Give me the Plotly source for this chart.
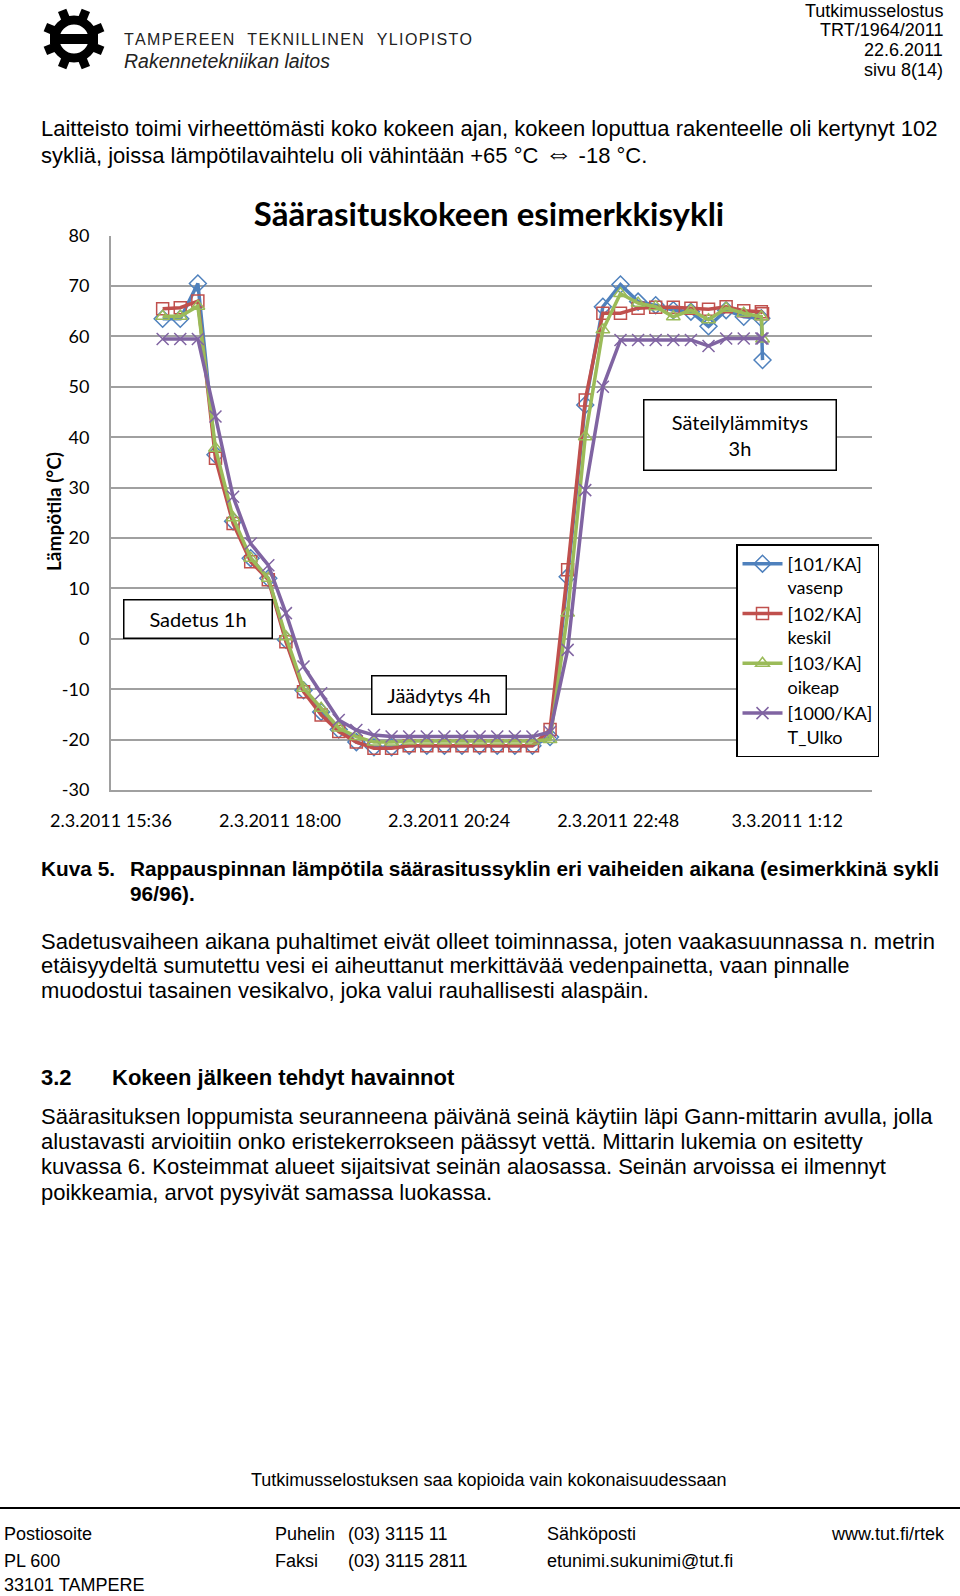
import math
import plotly.graph_objects as go

W, H = 960, 1596
def px(x): return x / W
def py(y): return 1 - y / H

# ---------------- data ----------------
times = ["2011-03-02 16:20", "2011-03-02 16:35", "2011-03-02 16:50", "2011-03-02 17:05",
         "2011-03-02 17:20", "2011-03-02 17:35", "2011-03-02 17:50", "2011-03-02 18:05",
         "2011-03-02 18:20", "2011-03-02 18:35", "2011-03-02 18:50", "2011-03-02 19:05",
         "2011-03-02 19:20", "2011-03-02 19:35", "2011-03-02 19:50", "2011-03-02 20:05",
         "2011-03-02 20:20", "2011-03-02 20:35", "2011-03-02 20:50", "2011-03-02 21:05",
         "2011-03-02 21:20", "2011-03-02 21:35", "2011-03-02 21:50", "2011-03-02 22:05",
         "2011-03-02 22:20", "2011-03-02 22:35", "2011-03-02 22:50", "2011-03-02 23:05",
         "2011-03-02 23:20", "2011-03-02 23:35", "2011-03-02 23:50", "2011-03-03 00:05",
         "2011-03-03 00:20", "2011-03-03 00:35", "2011-03-03 00:50", "2011-03-03 00:51"]

t101_vasenp = [63.5, 63.5, 70.5, 36.5, 23.3, 16.0, 12.0, -0.2, -10.2, -14.5, -18.0, -20.5,
               -21.5, -21.5, -21.2, -21.2, -21.2, -21.2, -21.2, -21.2, -21.2, -21.2, -19.5,
               12.3, 46.4, 65.9, 70.3, 66.9, 66.2, 65.2, 64.9, 62.0, 65.2, 63.9, 63.6, 55.3]
t102_keskil = [65.5, 65.7, 67.0, 35.8, 22.9, 15.3, 11.7, -0.6, -10.5, -15.1, -18.4, -20.5,
               -21.7, -21.7, -21.2, -21.2, -21.2, -21.2, -21.2, -21.2, -21.2, -21.2, -18.0,
               13.7, 47.4, 64.6, 64.6, 65.6, 65.8, 65.8, 65.6, 65.4, 65.9, 65.1, 64.9, 64.5]
t103_oikeap = [64.0, 64.0, 66.0, 37.8, 24.0, 16.0, 12.0, 0.4, -9.8, -13.8, -17.7, -19.4,
               -20.5, -20.5, -20.3, -20.3, -20.3, -20.3, -20.3, -20.3, -20.3, -20.3, -20.0,
               5.1, 40.1, 61.3, 68.5, 66.6, 65.9, 63.9, 65.2, 63.3, 65.6, 64.6, 63.9, 59.5]
t1000_ulko = [59.5, 59.5, 59.5, 44.1, 28.2, 18.9, 14.6, 5.1, -5.5, -10.8, -16.1, -18.1,
              -19.1, -19.4, -19.4, -19.4, -19.4, -19.4, -19.4, -19.4, -19.4, -19.4, -18.5,
              -2.2, 29.5, 50.0, 59.3, 59.3, 59.3, 59.3, 59.3, 58.1, 59.6, 59.6, 59.6, 59.6]

series_names = ["[101/KA]<br>vasenp", "[102/KA]<br>keskil", "[103/KA]<br>oikeap", "[1000/KA]<br>T_Ulko"]
series_values = [t101_vasenp, t102_keskil, t103_oikeap, t1000_ulko]

y_tick_vals = [-30, -20, -10, 0, 10, 20, 30, 40, 50, 60, 70, 80]
y_tick_text = ["-30", "-20", "-10", "0", "10", "20", "30", "40", "50", "60", "70", "80"]
x_tick_vals = ["2011-03-02 15:36", "2011-03-02 18:00", "2011-03-02 20:24",
               "2011-03-02 22:48", "2011-03-03 01:12"]
x_tick_text = ["2.3.2011 15:36", "2.3.2011 18:00", "2.3.2011 20:24",
               "2.3.2011 22:48", "3.3.2011 1:12"]
x_range = ["2011-03-02 15:36", "2011-03-03 02:24"]

# ---------------- styles ----------------
colors = ["#4F81BD", "#C0504D", "#9BBB59", "#8064A2"]
symbols = ["diamond-open", "square-open", "triangle-up-open", "x-thin-open"]
msizes = [13, 12, 12, 12]
CAL = "Lato, Carlito, Calibri, sans-serif"
ARI = "Liberation Sans, Arial, sans-serif"

fig = go.Figure()
for name, vals, c, s, ms in zip(series_names, series_values, colors, symbols, msizes):
    fig.add_trace(go.Scatter(
        x=times, y=vals, name=name, mode="lines+markers",
        line=dict(color=c, width=3.5),
        marker=dict(symbol=s, size=ms, color=c, line=dict(width=1.5, color=c)),
    ))

fig.update_layout(
    template="none",
    width=W, height=H, margin=dict(l=0, r=0, t=0, b=0, pad=0, autoexpand=False),
    paper_bgcolor="white", plot_bgcolor="white",
    showlegend=True,
    legend=dict(x=px(736), y=py(544), xanchor="left", yanchor="top",
                bordercolor="black", borderwidth=1.5, bgcolor="white",
                font=dict(family=CAL, size=18, color="black"), valign="top",
                itemwidth=40),
    title=dict(text="<b>Säärasituskokeen esimerkkisykli</b>", x=px(489), xanchor="center",
               y=py(214), yanchor="middle", font=dict(family=CAL, size=33, color="black")),
)
fig.update_xaxes(
    type="date", range=x_range, domain=[px(111), px(871.7)], automargin=False,
    tickvals=x_tick_vals, ticktext=x_tick_text, showgrid=False,
    showline=True, linecolor="#A0A0A0", linewidth=2,
    ticks="outside", ticklen=13, tickcolor="rgba(0,0,0,0)",
    tickfont=dict(family=CAL, size=18, color="black"), zeroline=False,
)
fig.update_yaxes(
    range=[-30, 80], domain=[py(790), py(235.6)], automargin=False,
    tickvals=y_tick_vals, ticktext=y_tick_text, showgrid=True, gridcolor="#A0A0A0", gridwidth=1.5,
    showline=True, linecolor="#A0A0A0", linewidth=2, zeroline=False,
    ticks="outside", ticklen=16, tickcolor="rgba(0,0,0,0)",
    tickfont=dict(family=CAL, size=18, color="black"),
)

ann = []
def text(x, y, s, size=22, anchor="left", bold=False, italic=False, family=ARI, color="black"):
    if bold:
        s = "<b>" + s + "</b>"
    if italic:
        s = "<i>" + s + "</i>"
    ann.append(dict(x=px(x), y=py(y), xref="paper", yref="paper", text=s, showarrow=False,
                    xanchor=anchor, yanchor="middle", font=dict(family=family, size=size, color=color)))

# axis title
ann.append(dict(x=px(53), y=py(512), xref="paper", yref="paper", text="<b>Lämpötila (°C)</b>",
                textangle=-90, showarrow=False, xanchor="center", yanchor="middle",
                font=dict(family=CAL, size=19, color="black")))

# chart text boxes
def box(cx, cy, w, h, s):
    ann.append(dict(x=px(cx), y=py(cy), xref="paper", yref="paper", text=s, showarrow=False,
                    xanchor="center", yanchor="middle", width=w, height=h,
                    bordercolor="black", borderwidth=1.5, borderpad=0, bgcolor="white",
                    font=dict(family=CAL, size=20, color="black")))
box(197.5, 619.5, 147, 37, "Sadetus 1h")
box(439, 694.5, 133, 37, "Jäädytys 4h")
box(740, 435, 191, 69, "Säteilylämmitys<br>3h")

# header
uni = "TAMPEREEN TEKNILLINEN YLIOPISTO"
uni_spaced = "   ".join("\u200a".join(w) for w in uni.split(" "))
text(122, 39, uni_spaced, size=16, color="#222")
text(122, 61, "Rakennetekniikan laitos", size=19.5, italic=True, color="#222")
for yy, s in zip([11.5, 30, 50, 70], ["Tutkimusselostus", "TRT/1964/2011", "22.6.2011", "sivu 8(14)"]):
    text(945, yy, s, size=18, anchor="right")

# body
text(39, 129, "Laitteisto toimi virheettömästi koko kokeen ajan, kokeen loputtua rakenteelle oli kertynyt 102")
text(39, 154, "sykliä, joissa lämpötilavaihtelu oli vähintään +65 °C <span style='font-size:28px'>⇔</span> -18 °C.")
text(39, 868, "Kuva 5.", bold=True, size=20.8)
text(128, 868, "Rappauspinnan lämpötila säärasitussyklin eri vaiheiden aikana (esimerkkinä sykli", bold=True, size=20.8)
text(128, 893, "96/96).", bold=True, size=20.8)
for yy, s in zip([941, 965, 990.5], [
        "Sadetusvaiheen aikana puhaltimet eivät olleet toiminnassa, joten vaakasuunnassa n. metrin",
        "etäisyydeltä sumutettu vesi ei aiheuttanut merkittävää vedenpainetta, vaan pinnalle",
        "muodostui tasainen vesikalvo, joka valui rauhallisesti alaspäin."]):
    text(39, yy, s)
text(39, 1077, "3.2", bold=True)
text(110, 1077, "Kokeen jälkeen tehdyt havainnot", bold=True)
for yy, s in zip([1116, 1141, 1166.5, 1192], [
        "Säärasituksen loppumista seuranneena päivänä seinä käytiin läpi Gann-mittarin avulla, jolla",
        "alustavasti arvioitiin onko eristekerrokseen päässyt vettä. Mittarin lukemia on esitetty",
        "kuvassa 6. Kosteimmat alueet sijaitsivat seinän alaosassa. Seinän arvoissa ei ilmennyt",
        "poikkeamia, arvot pysyivät samassa luokassa."]):
    text(39, yy, s)

# footer
text(489, 1480, "Tutkimusselostuksen saa kopioida vain kokonaisuudessaan", size=18, anchor="center")
for yy, s in zip([1534, 1561, 1585], ["Postiosoite", "PL 600", "33101 TAMPERE"]):
    text(2, yy, s, size=18)
text(273, 1534, "Puhelin", size=18)
text(273, 1561, "Faksi", size=18)
text(346, 1534, "(03) 3115 11", size=18)
text(346, 1561, "(03) 3115 2811", size=18)
text(545, 1534, "Sähköposti", size=18)
text(545, 1561, "etunimi.sukunimi@tut.fi", size=18)
text(947, 1534, "www.tut.fi/rtek", size=18, anchor="right")

fig.update_layout(annotations=ann)

# shapes: footer rule + logo
shapes = [dict(type="line", xref="paper", yref="paper", x0=0, x1=1, y0=py(1508), y1=py(1508),
               line=dict(color="black", width=2))]
cx, cy = 74, 39
shapes.append(dict(type="circle", xref="paper", yref="paper",
                   x0=px(cx - 19), x1=px(cx + 19), y0=py(cy + 19), y1=py(cy - 19),
                   line=dict(color="black", width=9)))
shapes.append(dict(type="rect", xref="paper", yref="paper",
                   x0=px(cx - 24), x1=px(cx + 24), y0=py(cy + 5), y1=py(cy - 5),
                   fillcolor="black", line=dict(width=0)))
for k in range(8):
    a = math.radians(22.5 + 45 * k)
    pts = []
    for r, d in [(21, -4.5), (31, -4.5), (31, 4.5), (21, 4.5)]:
        x = cx + r * math.cos(a) - d * math.sin(a)
        y = cy + r * math.sin(a) + d * math.cos(a)
        pts.append((px(x), py(y)))
    path = "M " + " L ".join(f"{a_:.5f},{b_:.5f}" for a_, b_ in pts) + " Z"
    shapes.append(dict(type="path", xref="paper", yref="paper", path=path,
                       fillcolor="black", line=dict(width=0)))
fig.update_layout(shapes=shapes)

fig.write_html("out.html")
